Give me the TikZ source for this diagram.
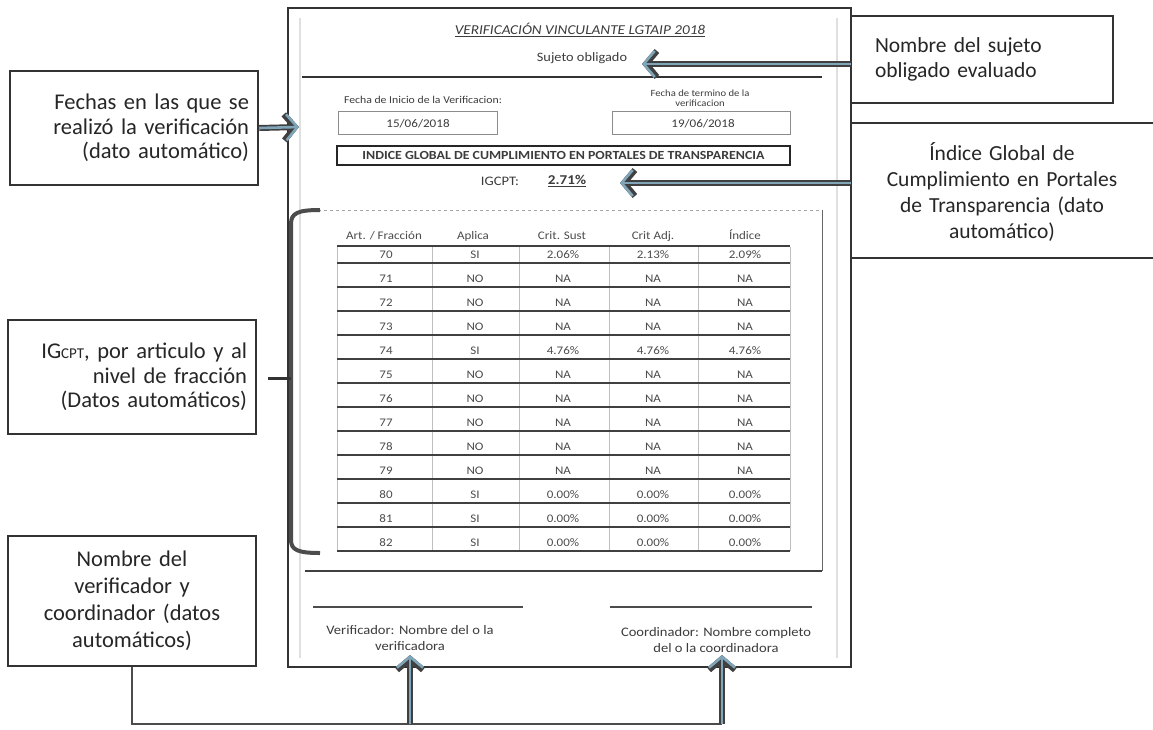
\documentclass[tikz,border=0pt]{standalone}
\usepackage{fontspec}
\setmainfont{Carlito}
\newfontfamily\formfont[FakeStretch=1.12]{Carlito}
\usetikzlibrary{arrows.meta}
\definecolor{arrblue}{RGB}{128,165,185}
\definecolor{inkgray}{RGB}{60,60,60}
\tikzset{
  callout/.style={draw=black!80, line width=2.5pt, fill=white, inner sep=0pt, font=\fontsize{22.5}{24.5}\selectfont, text=black!85},
  arrout/.style={line width=6pt, draw=black!75, -{Straight Barb[length=11pt,width=26pt,line width=6pt]}},
  arrin/.style={line width=2.6pt, draw=arrblue, -{Straight Barb[length=11pt,width=26pt,line width=2.6pt]}},
  formtxt/.style={text=inkgray, inner sep=1pt},
  cell/.style={text=black!70, font=\formfont\fontsize{11.6}{13}\selectfont, inner sep=0pt, text height=8pt, text depth=2pt},
  rowline/.style={line width=1.8pt, draw=black!75},
  divline/.style={line width=0.6pt, draw=black!25},
  sigline/.style={line width=2.4pt, draw=black!70},
  conn/.style={line width=2pt, draw=black!70},
}
\newcommand{\fatarr}[2]{\draw[arrout] #1 -- #2; \draw[arrin] #1 -- #2;}
\begin{document}
\begin{tikzpicture}[x=1pt,y=-1pt]
\useasboundingbox (0,0) rectangle (1153,729);
\fill[white] (0,0) rectangle (1153,729);

% form frame
\draw[line width=2pt, draw=black!80] (288,8) rectangle (851,667);
\draw[line width=1.5pt, draw=black!12] (300,18) -- (300,658);
\draw[line width=1.5pt, draw=black!12] (837,18) -- (837,658);

% header
\node[formtxt, font=\formfont\fontsize{13.6}{15}\selectfont\itshape] (title) at (580,30) {\underline{VERIFICACIÓN VINCULANTE LGTAIP 2018}};
\node[formtxt, font=\formfont\fontsize{12.8}{14}\selectfont] (suj) at (582,58) {Sujeto obligado};
\draw[line width=2.4pt, draw=black!80] (302,77) -- (822,77);

% dates
\node[formtxt, font=\formfont\fontsize{10.5}{12}\selectfont] (fi) at (423,100) {Fecha de Inicio de la Verificacion:};
\node[formtxt, font=\formfont\fontsize{9.5}{10}\selectfont, align=center] (ft) at (700,98) {Fecha de termino de la\\verificacion};
\draw[line width=0.8pt, draw=black!45] (338,111) rectangle (497,134);
\draw[line width=0.8pt, draw=black!45] (612,111) rectangle (790,134);
\node[formtxt, font=\formfont\fontsize{11.7}{13}\selectfont] (d1) at (418,124) {15/06/2018};
\node[formtxt, font=\formfont\fontsize{11.7}{13}\selectfont] (d2) at (703,124) {19/06/2018};

% indice global
\node[draw=black!85, line width=2pt, minimum width=453pt, minimum height=19pt, inner sep=0pt, text=inkgray, font=\formfont\fontsize{12.4}{13}\selectfont\bfseries] (igbox) at (563.5,155.5) {INDICE GLOBAL DE CUMPLIMIENTO EN PORTALES DE TRANSPARENCIA};
\node[formtxt, font=\formfont\fontsize{13}{15}\selectfont] (iglab) at (500,181) {IGCPT:};
\node[formtxt, font=\formfont\fontsize{13.5}{15}\selectfont\bfseries] (igval) at (567,181) {\underline{2.71\%}};

% table frame
\draw[line width=0.6pt, draw=black!35, dashed] (318,210) -- (822,210);
\draw[line width=1pt, draw=black!60] (822,210) -- (822,571);
\draw[line width=2pt, draw=black!75] (305,571) -- (822,571);

% table header
\node[cell] (h1) at (384,236) {Art. / Fracción};
\node[cell] (h2) at (473,236) {Aplica};
\node[cell] (h3) at (562,236) {Crit. Sust};
\node[cell] (h4) at (653,236) {Crit Adj.};
\node[cell] (h5) at (745,236) {Índice};
\draw[rowline] (337,246) -- (790,246);
\foreach \x in {337,432,519,609,698,790}
  \draw[divline] (\x,247) -- (\x,551);

% table rows
\foreach \a/\b/\c/\d/\e [count=\i from 0] in {
  70/SI/2.06\%/2.13\%/2.09\%, 71/NO/NA/NA/NA, 72/NO/NA/NA/NA, 73/NO/NA/NA/NA,
  74/SI/4.76\%/4.76\%/4.76\%, 75/NO/NA/NA/NA, 76/NO/NA/NA/NA, 77/NO/NA/NA/NA,
  78/NO/NA/NA/NA, 79/NO/NA/NA/NA, 80/SI/0.00\%/0.00\%/0.00\%,
  81/SI/0.00\%/0.00\%/0.00\%, 82/SI/0.00\%/0.00\%/0.00\%}{
  \pgfmathsetmacro\yy{255+24*\i}
  \node[cell] (ra\a) at (386,\yy) {\a};
  \node[cell] (rb\a) at (475,\yy) {\b};
  \node[cell] (rc\a) at (563,\yy) {\c};
  \node[cell] (rd\a) at (653,\yy) {\d};
  \node[cell] (re\a) at (745,\yy) {\e};
  \draw[rowline] (337,\yy+8) -- (790,\yy+8);
}

% signatures
\draw[sigline] (313,607) -- (523,607);
\draw[sigline] (610,607) -- (812,607);
\node[formtxt, font=\formfont\fontsize{13}{16}\selectfont, align=center] (ver) at (410,638) {Verificador: Nombre del o la\\verificadora};
\node[formtxt, font=\formfont\fontsize{13}{16}\selectfont, align=center] (coo) at (716,640) {Coordinador: Nombre completo\\del o la coordinadora};

% callout boxes
\node[callout, minimum width=248pt, minimum height=114pt] (bf) at (134,128) {};
\node[callout, text width=230pt, align=right, fill=none, draw=none] at (bf) {Fechas en las que se\\realizó la verificación\\(dato automático)};

\node[callout, minimum width=248pt, minimum height=114pt] (bi) at (132,377) {};
\node[callout, text width=230pt, align=right, fill=none, draw=none] at (bi) {IG{\fontsize{15}{15}\selectfont CPT}, por articulo y al\\nivel de fracción\\(Datos automáticos)};

\node[callout, minimum width=248pt, minimum height=130pt] (bn) at (132,601) {};
\node[callout, text width=230pt, align=center, fill=none, draw=none, font=\fontsize{22.5}{27}\selectfont] at (bn) {Nombre del\\verificador y\\coordinador (datos\\automáticos)};

\node[callout, minimum width=262pt, minimum height=87pt] (bs) at (982,59.5) {};
\node[callout, text width=220pt, align=left, fill=none, draw=none, font=\fontsize{21.5}{25}\selectfont] at (985,59.5) {Nombre del sujeto\\obligado evaluado};

\node[callout, minimum width=310pt, minimum height=135pt] (bg) at (1006,190.5) {};
\node[callout, text width=290pt, align=center, fill=none, draw=none, font=\fontsize{21.5}{26}\selectfont] at (1002,192) {Índice Global de\\Cumplimiento en Portales\\de Transparencia (dato\\automático)};

% connectors
\coordinate (sujtip) at (642,64);
\coordinate (sujsrc) at (851,64);
\fatarr{(sujsrc)}{(sujtip)}
\coordinate (igtip) at (620,183);
\coordinate (igsrc) at (851,183);
\fatarr{(igsrc)}{(igtip)}
\coordinate (ftip) at (299,127);
\fatarr{(bf.east)}{(ftip)}

% bracket
\coordinate (brt) at (320,210);
\coordinate (brb) at (320,553);
\draw[line width=4pt, draw=black!70] (brt) .. controls (298,210) and (291,213) .. (291,224) -- (291,540) .. controls (291,550) and (298,553) .. (brb);
\coordinate (tickL) at (268,378);
\coordinate (tickR) at (291,378);
\draw[line width=3pt, draw=black!80] (tickL) -- (tickR);

% bottom connector
\coordinate (jM) at (410,724);
\coordinate (jR) at (722,724);
\coordinate (jL) at (bn.south |- jM);
\coordinate (vtip) at (410,655);
\coordinate (ctip) at (722,655);
\draw[conn] (bn.south) -- (jL) -- (jR);
\fatarr{(jM)}{(vtip)}
\fatarr{(jR)}{(ctip)}
\end{tikzpicture}
\end{document}
